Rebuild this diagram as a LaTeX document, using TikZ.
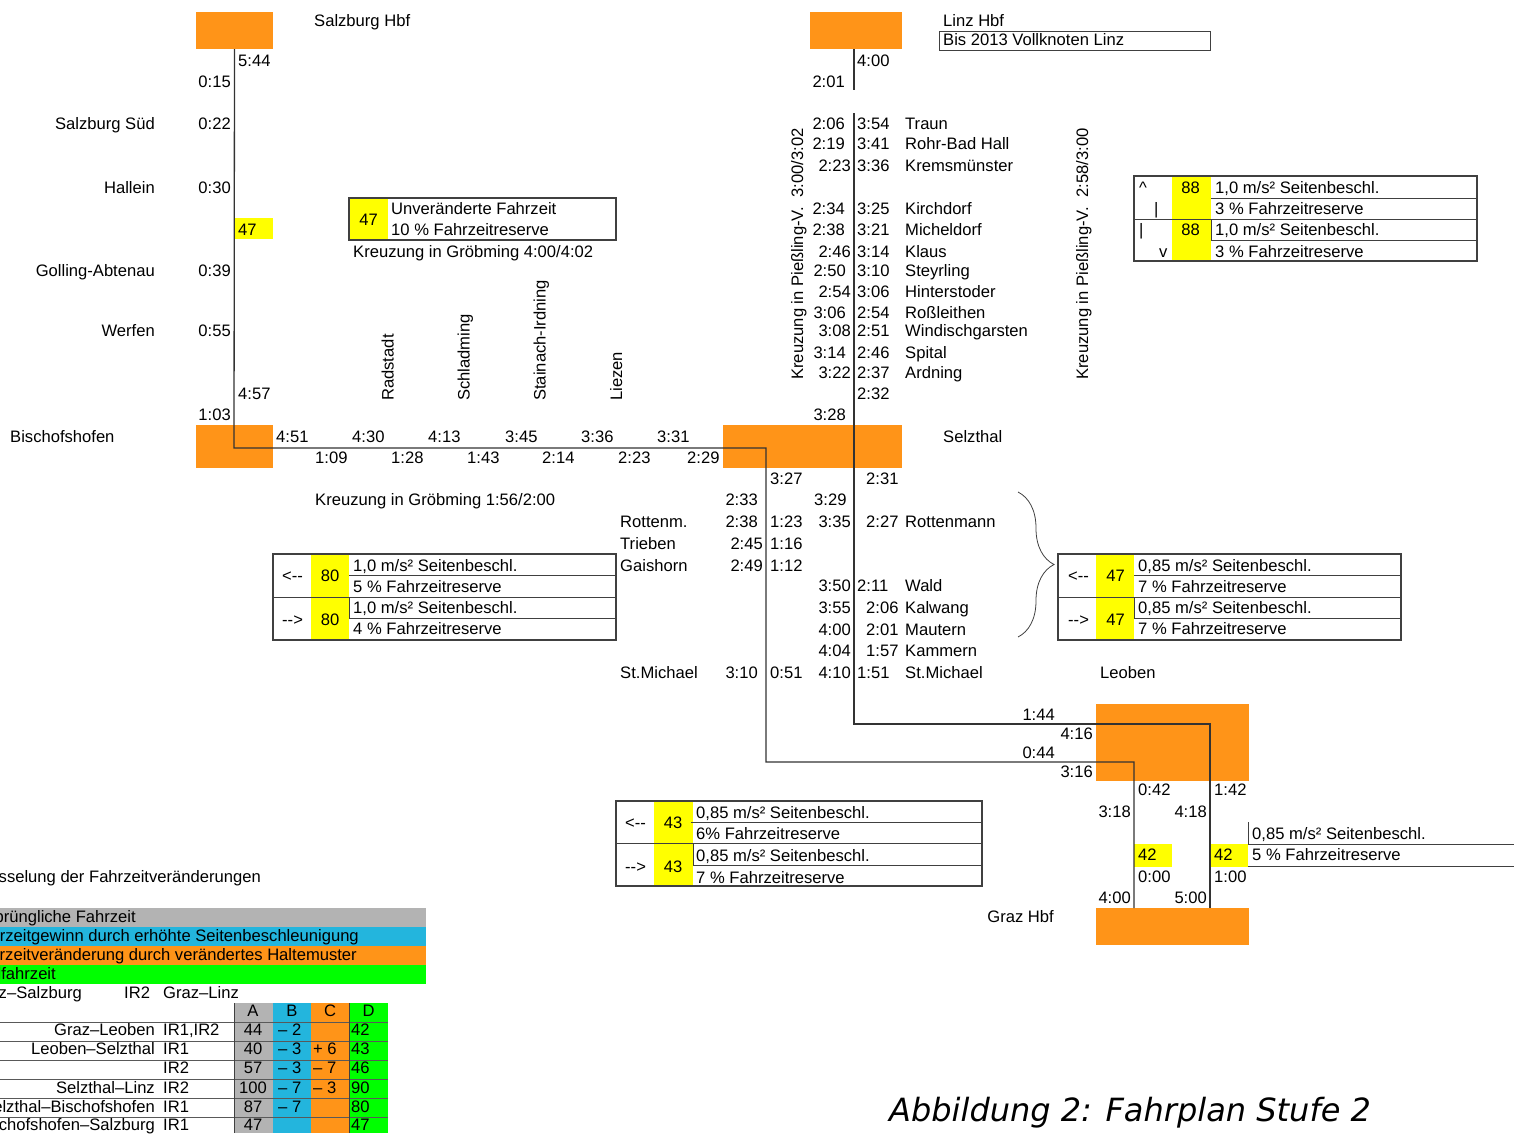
\documentclass[tikz,border=0pt]{standalone}
\usepackage{fontspec}
\setmainfont{Liberation Sans}
\newfontfamily\capfont{DejaVu Sans}
\usepackage{tikz}
\usetikzlibrary{decorations.pathreplacing}
\definecolor{fporange}{HTML}{FF9418}
\definecolor{fpyellow}{HTML}{FFFF00}
\definecolor{fpblue}{HTML}{23B5DD}
\definecolor{fpgray}{HTML}{B3B3B3}
\definecolor{fpgreen}{HTML}{00FF00}
\definecolor{fpline}{HTML}{333333}
\newcommand{\fpfont}{\fontsize{16.6}{20}\selectfont}
\begin{document}
\begin{tikzpicture}[x=1pt,y=-1pt,font=\fpfont,
  tx/.style={inner sep=0pt,anchor=base west},
  txr/.style={inner sep=0pt,anchor=base east},
  txc/.style={inner sep=0pt,anchor=base},
  blk/.style={inner sep=0pt,outer sep=0pt,anchor=north west},
  route/.style={line width=1.3pt,fpline},
  frame/.style={line width=1.1pt,black!75},
  rule/.style={line width=0.8pt,black!75}]
  \useasboundingbox (0,0) rectangle (1514,1133);
  \clip (0,0) rectangle (1514,1133);
  % stations
  \node[blk,fill=fporange,minimum width=77pt,minimum height=37pt] (salzburg) at (196,12) {};
  \node[blk,fill=fporange,minimum width=92pt,minimum height=37pt] (linz) at (810,12) {};
  \node[blk,fill=fporange,minimum width=77pt,minimum height=43pt] (bischofshofen) at (196,425) {};
  \node[blk,fill=fporange,minimum width=179pt,minimum height=43pt] (selzthal) at (723,425) {};
  \node[blk,fill=fporange,minimum width=153pt,minimum height=77pt] (leoben) at (1096,704) {};
  \node[blk,fill=fporange,minimum width=153pt,minimum height=37pt] (graz) at (1096,908) {};
  \node[blk,fill=fpyellow,minimum width=38pt,minimum height=21pt] (yw47) at (235,218) {};
  \node[blk,fill=fpyellow,minimum width=38pt,minimum height=23pt] (yg42a) at (1134,844) {};
  \node[blk,fill=fpyellow,minimum width=38pt,minimum height=23pt] (yg42b) at (1210,844) {};
  % routes
  \coordinate (ir1a) at (234,448);
  \coordinate (ir1b) at (766,448);
  \coordinate (ir1c) at (766,762);
  \coordinate (ir1d) at (1134,762);
  \coordinate (ir1e) at (1134,908);
  \coordinate (ir2a) at (854,49);
  \coordinate (ir2b) at (854,90);
  \coordinate (ir2c) at (854,113);
  \coordinate (ir2d) at (854,724);
  \coordinate (ir2e) at (1210,724);
  \coordinate (ir2f) at (1210,908);
  \draw[route] (salzburg.south) -- (ir1a) -- (ir1b) -- (ir1c) -- (ir1d) -- (ir1e);
  \draw[route] (ir2a) -- (ir2b) (ir2c) -- (ir2d) -- (ir2e) -- (ir2f);
  % Salzburg -- Bischofshofen
  \node[tx] (nszb) at (314,26) {Salzburg Hbf};
  \node[tx] (a544) at (238,66) {5:44};
  \node[txr] (d015) at (231,87) {0:15};
  \node[txr] (nszs) at (155,129) {Salzburg Süd};
  \node[txr] (d022) at (231,129) {0:22};
  \node[txr] (nhal) at (155,193) {Hallein};
  \node[txr] (d030) at (231,193) {0:30};
  \node[tx] (vw47) at (238,235) {47};
  \node[txr] (ngol) at (155,276) {Golling-Abtenau};
  \node[txr] (d039) at (231,276) {0:39};
  \node[txr] (nwer) at (155,336) {Werfen};
  \node[txr] (d055) at (231,336) {0:55};
  \node[tx] (a457) at (238,399) {4:57};
  \node[txr] (d103) at (231,420) {1:03};
  \node[tx] (nbis) at (10,442) {Bischofshofen};
  % Ennstal
  \foreach \x/\t [count=\i] in {276/4:51,352/4:30,428/4:13,505/3:45,581/3:36,657/3:31}
    \node[tx] (ennup\i) at (\x,442) {\t};
  \foreach \x/\t [count=\i] in {315/1:09,391/1:28,467/1:43,542/2:14,618/2:23,687/2:29}
    \node[tx] (enndn\i) at (\x,463) {\t};
  \foreach \x/\n [count=\i] in {393.5/Radstadt,469.5/Schladming,545.5/Stainach-Irdning,622/Liezen}
    \node[tx,rotate=90] (enns\i) at (\x,401) {\n};
  \node[blk,fill=fpyellow,minimum width=39pt,minimum height=42pt] (yu47) at (349,198) {};
  \draw[frame] (349,198) rectangle (616,240);
  \node[txc] (vu47) at (368.5,225) {47};
  \node[tx] (unv1) at (391,214) {Unveränderte Fahrzeit};
  \node[tx] (unv2) at (391,235) {10 \% Fahrzeitreserve};
  \node[tx] (kgr1) at (353,257) {Kreuzung in Gröbming 4:00/4:02};
  \node[tx] (kgr2) at (315,505) {Kreuzung in Gröbming 1:56/2:00};
  % Linz -- Selzthal
  \node[tx] (nlnz) at (943,26) {Linz Hbf};
  \draw[rule] (939,31) rectangle (1210,50);
  \node[tx] (vkl) at (943,45) {Bis 2013 Vollknoten Linz};
  \node[tx] (a400) at (857,66) {4:00};
  \node[txr] (d201) at (845,87) {2:01};
  \foreach \y/\xl/\tl/\tr/\stn [count=\i] in {
    129/845/2:06/3:54/Traun, 149/845/2:19/3:41/Rohr-Bad Hall, 171/851/2:23/3:36/Kremsmünster,
    214/845/2:34/3:25/Kirchdorf, 235/845/2:38/3:21/Micheldorf, 257/851/2:46/3:14/Klaus,
    276/846/2:50/3:10/Steyrling, 297/851/2:54/3:06/Hinterstoder, 318/846/3:06/2:54/Roßleithen,
    336/851/3:08/2:51/Windischgarsten, 358/846/3:14/2:46/Spital, 378/851/3:22/2:37/Ardning}
  {
    \node[txr] (lzl\i) at (\xl,\y) {\tl};
    \node[tx] (lzr\i) at (857,\y) {\tr};
    \node[tx] (lzs\i) at (905,\y) {\stn};
  }
  \node[tx] (a232) at (857,399) {2:32};
  \node[txr] (d328) at (846,420) {3:28};
  \node[tx,rotate=90] (kpv1) at (803,380) {Kreuzung in Pießling-V.\ \ 3:00/3:02};
  \node[tx,rotate=90] (kpv2) at (1088,380) {Kreuzung in Pießling-V.\ \ 2:58/3:00};
  \node[tx] (nsel) at (943,442) {Selzthal};
  \node[blk,fill=fpyellow,minimum width=39pt,minimum height=85pt] (y88) at (1172,176) {};
  \draw[frame] (1134,176) rectangle (1477,261);
  \draw[rule] (1134,219) -- (1477,219) (1211,198) -- (1477,198) (1211,219) -- (1211,240) -- (1477,240);
  \node[tx] (up88a) at (1139,193) {\textasciicircum};
  \node[tx] (up88b) at (1154,214) {\textbar};
  \node[tx] (dn88a) at (1139,235) {\textbar};
  \node[tx] (dn88b) at (1159,257) {v};
  \node[txr] (v88a) at (1200,193) {88};
  \node[txr] (v88b) at (1200,235) {88};
  \node[tx] (s88a) at (1215,193) {1,0 m/s² Seitenbeschl.};
  \node[tx] (s88b) at (1215,214) {3 \% Fahrzeitreserve};
  \node[tx] (s88c) at (1215,235) {1,0 m/s² Seitenbeschl.};
  \node[tx] (s88d) at (1215,257) {3 \% Fahrzeitreserve};
  % Selzthal -- Leoben
  \node[tx] (a327) at (770,484) {3:27};
  \node[tx] (b231) at (866,484) {2:31};
  \node[txr] (a233) at (758,505) {2:33};
  \node[tx] (b329) at (814,505) {3:29};
  \node[tx] (nrot1) at (620,527) {Rottenm.};
  \node[txr] (a238) at (758,527) {2:38};
  \node[tx] (a123) at (770,527) {1:23};
  \node[txr] (b335) at (851,527) {3:35};
  \node[tx] (b227) at (866,527) {2:27};
  \node[tx] (nrot2) at (905,527) {Rottenmann};
  \node[tx] (ntri) at (620,549) {Trieben};
  \node[txr] (a245) at (763,549) {2:45};
  \node[tx] (a116) at (770,549) {1:16};
  \node[tx] (ngai) at (620,571) {Gaishorn};
  \node[txr] (a249) at (763,571) {2:49};
  \node[tx] (a112) at (770,571) {1:12};
  \node[txr] (b350) at (851,591) {3:50};
  \node[tx] (b211) at (857,591) {2:11};
  \node[tx] (nwal) at (905,591) {Wald};
  \node[txr] (b355) at (851,613) {3:55};
  \node[tx] (b206) at (866,613) {2:06};
  \node[tx] (nkal) at (905,613) {Kalwang};
  \node[txr] (b400) at (851,635) {4:00};
  \node[tx] (b201) at (866,635) {2:01};
  \node[tx] (nmau) at (905,635) {Mautern};
  \node[txr] (b404) at (851,656) {4:04};
  \node[tx] (b157) at (866,656) {1:57};
  \node[tx] (nkam) at (905,656) {Kammern};
  \node[tx] (nstm1) at (620,678) {St.Michael};
  \node[txr] (a310) at (758,678) {3:10};
  \node[tx] (a051) at (770,678) {0:51};
  \node[txr] (b410) at (851,678) {4:10};
  \node[tx] (b151) at (857,678) {1:51};
  \node[tx] (nstm2) at (905,678) {St.Michael};
  \node[tx] (nleo) at (1100,678) {Leoben};
  \draw[rule,decorate,decoration={brace,amplitude=36pt}] (1018,492) -- (1018,637);
  % box 80
  \node[blk,fill=fpyellow,minimum width=38pt,minimum height=86pt] (y80) at (311,554) {};
  \draw[frame] (273,554) rectangle (616,640);
  \draw[rule] (273,597) -- (616,597) (349,575) -- (616,575) (349,597) -- (349,618) -- (616,618);
  \node[tx] (l80) at (282,581) {<-{}-};
  \node[tx] (r80) at (282,625) {-{}->};
  \node[txc] (v80a) at (330,581) {80};
  \node[txc] (v80b) at (330,625) {80};
  \node[tx] (s80a) at (353,571) {1,0 m/s² Seitenbeschl.};
  \node[tx] (s80b) at (353,592) {5 \% Fahrzeitreserve};
  \node[tx] (s80c) at (353,613) {1,0 m/s² Seitenbeschl.};
  \node[tx] (s80d) at (353,634) {4 \% Fahrzeitreserve};
  % box 47
  \node[blk,fill=fpyellow,minimum width=38pt,minimum height=86pt] (y47) at (1096,554) {};
  \draw[frame] (1058,554) rectangle (1401,640);
  \draw[rule] (1058,597) -- (1401,597) (1134,575) -- (1401,575) (1134,597) -- (1134,618) -- (1401,618);
  \node[tx] (l47) at (1068,581) {<-{}-};
  \node[tx] (r47) at (1068,625) {-{}->};
  \node[txc] (v47a) at (1115.5,581) {47};
  \node[txc] (v47b) at (1115.5,625) {47};
  \node[tx] (s47a) at (1138,571) {0,85 m/s² Seitenbeschl.};
  \node[tx] (s47b) at (1138,592) {7 \% Fahrzeitreserve};
  \node[tx] (s47c) at (1138,613) {0,85 m/s² Seitenbeschl.};
  \node[tx] (s47d) at (1138,634) {7 \% Fahrzeitreserve};
  % box 43
  \node[blk,fill=fpyellow,minimum width=39pt,minimum height=85pt] (y43) at (654,801) {};
  \draw[frame] (616,801) rectangle (982,886);
  \draw[rule] (616,843) -- (982,843) (691,822) -- (982,822) (693,843) -- (693,865) -- (982,865);
  \node[tx] (l43) at (625,828) {<-{}-};
  \node[tx] (r43) at (625,872) {-{}->};
  \node[txc] (v43a) at (673,828) {43};
  \node[txc] (v43b) at (673,872) {43};
  \node[tx] (s43a) at (696,818) {0,85 m/s² Seitenbeschl.};
  \node[tx] (s43b) at (696,839) {6\% Fahrzeitreserve};
  \node[tx] (s43c) at (696,861) {0,85 m/s² Seitenbeschl.};
  \node[tx] (s43d) at (696,883) {7 \% Fahrzeitreserve};
  % Leoben -- Graz
  \node[txr] (b144) at (1055,720) {1:44};
  \node[txr] (a416) at (1093,739) {4:16};
  \node[txr] (a044) at (1055,758) {0:44};
  \node[txr] (b316) at (1093,777) {3:16};
  \node[tx] (a042) at (1138,795) {0:42};
  \node[tx] (b142) at (1214,795) {1:42};
  \node[txr] (a318) at (1131,817) {3:18};
  \node[txr] (b418) at (1207,817) {4:18};
  \node[tx] (vg42a) at (1138,860) {42};
  \node[tx] (vg42b) at (1214,860) {42};
  \node[tx] (a000) at (1138,882) {0:00};
  \node[tx] (b100) at (1214,882) {1:00};
  \node[txr] (a400g) at (1131,903) {4:00};
  \node[txr] (b500) at (1207,903) {5:00};
  \node[txr] (ngrz) at (1054,922) {Graz Hbf};
  \draw[rule] (1248,822) -- (1248,844) -- (1514,844) (1248,866) -- (1514,866);
  \node[tx] (s42a) at (1252,839) {0,85 m/s² Seitenbeschl.};
  \node[tx] (s42b) at (1252,860) {5 \% Fahrzeitreserve};
  % legend
  \node[txr] (lgtit) at (261,882) {Aufschlüsselung der Fahrzeitveränderungen};
  \fill[fpgray] (0,908) rectangle (426,927);
  \fill[fpblue] (0,927) rectangle (426,946);
  \fill[fporange] (0,946) rectangle (426,965);
  \fill[fpgreen] (0,965) rectangle (426,984);
  \node[txr] (lga) at (136,922) {Ursprüngliche Fahrzeit};
  \node[txr] (lgb) at (359,941) {Fahrzeitgewinn durch erhöhte Seitenbeschleunigung};
  \node[txr] (lgc) at (357,960) {Fahrzeitveränderung durch verändertes Haltemuster};
  \node[txr] (lgd) at (56,979) {Sollfahrzeit};
  \node[txr] (lgir1) at (82,998) {IR1 Graz–Salzburg};
  \node[tx] (lgir2) at (124,998) {IR2};
  \node[tx] (lgir2b) at (163,998) {Graz–Linz};
  \fill[fpgray] (234,1003) rectangle (273,1133);
  \fill[fpblue] (273,1003) rectangle (311,1133);
  \fill[fporange] (311,1003) rectangle (349,1133);
  \fill[fpgreen] (349,1003) rectangle (388,1133);
  \foreach \y in {1022,1041,1060,1079,1098,1117}
    \draw[rule,black!65] (0,\y) -- (388,\y);
  \draw[rule] (234,1003) -- (234,1133) (349,1003) -- (349,1133);
  \foreach \x/\c [count=\i] in {253/A,292/B,330/C,368.5/D}
    \node[txc] (hd\i) at (\x,1016) {\c};
  \foreach \y/\sec/\tr/\va/\vb/\vc/\vd [count=\i] in {
    1035/Graz–Leoben/{IR1,IR2}/44/– 2//42,
    1054/Leoben–Selzthal/IR1/40/– 3/+ 6/43,
    1073//IR2/57/– 3/– 7/46,
    1093/Selzthal–Linz/IR2/100/– 7/– 3/90,
    1112/Selzthal–Bischofshofen/IR1/87/– 7//80,
    1130/Bischofshofen–Salzburg/IR1/47///47}
  {
    \node[txr] (sec\i) at (155,\y) {\sec};
    \node[tx] (zug\i) at (163,\y) {\tr};
    \node[txc] (ca\i) at (253,\y) {\va};
    \node[tx] (cb\i) at (278,\y) {\vb};
    \node[tx] (cc\i) at (313,\y) {\vc};
    \node[tx] (cd\i) at (351,\y) {\vd};
  }
  \node[tx,font=\capfont\itshape\fontsize{32}{38}\selectfont] (caption) at (889,1121) {Abbildung 2: Fahrplan Stufe 2};
\end{tikzpicture}
\end{document}
